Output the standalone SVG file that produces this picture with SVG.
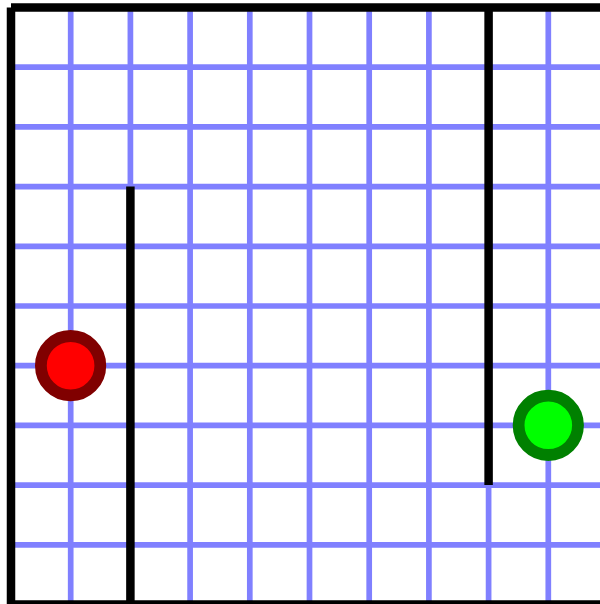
<svg xmlns="http://www.w3.org/2000/svg" width="600" height="604" viewBox="0 0 600 604">
<style>
.grid line{stroke:#8080ff;stroke-width:5.7;}
.wall{stroke:#000;stroke-width:8.5;stroke-linecap:butt;fill:none;}
</style>
<rect x="0" y="0" width="600" height="604" fill="#fff"/>
<g class="grid" id="grid">
<line x1="70.7" y1="7.5" x2="70.7" y2="604"/>
<line x1="130.4" y1="7.5" x2="130.4" y2="604"/>
<line x1="190.1" y1="7.5" x2="190.1" y2="604"/>
<line x1="249.8" y1="7.5" x2="249.8" y2="604"/>
<line x1="309.5" y1="7.5" x2="309.5" y2="604"/>
<line x1="369.2" y1="7.5" x2="369.2" y2="604"/>
<line x1="428.9" y1="7.5" x2="428.9" y2="604"/>
<line x1="488.6" y1="7.5" x2="488.6" y2="604"/>
<line x1="548.3" y1="7.5" x2="548.3" y2="604"/>
<line x1="11" y1="67.2" x2="600" y2="67.2"/>
<line x1="11" y1="126.9" x2="600" y2="126.9"/>
<line x1="11" y1="186.6" x2="600" y2="186.6"/>
<line x1="11" y1="246.3" x2="600" y2="246.3"/>
<line x1="11" y1="306" x2="600" y2="306"/>
<line x1="11" y1="365.7" x2="600" y2="365.7"/>
<line x1="11" y1="425.4" x2="600" y2="425.4"/>
<line x1="11" y1="485.1" x2="600" y2="485.1"/>
<line x1="11" y1="544.8" x2="600" y2="544.8"/>
</g>
<g id="walls">
<line class="wall" x1="11" y1="7.5" x2="600" y2="7.5"/>
<line class="wall" x1="11" y1="7.5" x2="11" y2="604.5"/>
<line class="wall" x1="11" y1="604.5" x2="600" y2="604.5"/>
<line class="wall" x1="130.4" y1="186.6" x2="130.4" y2="604.5"/>
<line class="wall" x1="488.6" y1="7.5" x2="488.6" y2="485.1"/>
</g>
<g id="start">
<circle cx="70.6" cy="365.7" r="29.7" fill="#ff0000" stroke="#800000" stroke-width="11.8"/>
</g>
<g id="goal">
<circle cx="548.3" cy="425.3" r="29.7" fill="#00ff00" stroke="#008000" stroke-width="11.8"/>
</g>
</svg>
